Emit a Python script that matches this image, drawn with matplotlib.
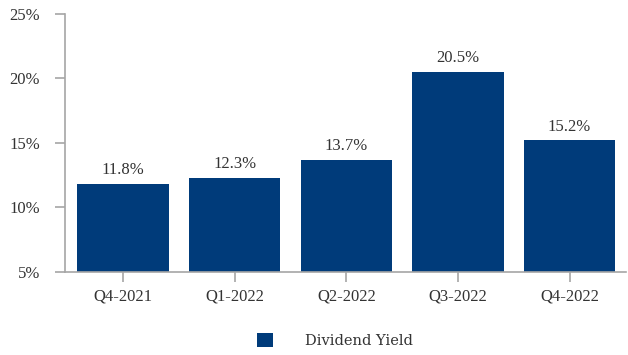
import numpy as np
import matplotlib.pyplot as plt

# Quarterly dividend yield (%)
quarters = ['Q4-2021', 'Q1-2022', 'Q2-2022', 'Q3-2022', 'Q4-2022']
dividend_yield = [11.8, 12.3, 13.7, 20.5, 15.2]
yticks = [5, 10, 15, 20, 25]

bar_color = '#003B7A'
text_color = '#333333'
axis_color = '#a6a6a6'

plt.rcParams['font.family'] = ['Liberation Serif', 'DejaVu Serif']

fig = plt.figure(figsize=(6.28, 3.55), dpi=100)
ax = fig.add_axes([0.1035, 0.234, 0.894, 0.7266])

x = np.arange(len(quarters))
bars = ax.bar(x, dividend_yield, width=0.82, bottom=0, color=bar_color,
              label='Dividend Yield')

# value labels above each bar
for xi, v in zip(x, dividend_yield):
    ax.text(xi, v + 0.45, f'{v:.1f}%', ha='center', va='bottom',
            fontsize=12, color=text_color)

ax.set_ylim(5, 25)
ax.set_xlim(-0.52, 4.51)
ax.set_yticks(yticks)
ax.set_yticklabels([f'{t}%' for t in yticks])
ax.set_xticks(x)
ax.set_xticklabels(quarters)

ax.tick_params(axis='both', colors=axis_color, labelcolor=text_color,
               labelsize=12, length=7, width=1.2)
ax.tick_params(axis='y', pad=11)
ax.tick_params(axis='x', pad=5)

for side in ['top', 'right']:
    ax.spines[side].set_visible(False)
for side in ['left', 'bottom']:
    ax.spines[side].set_color(axis_color)
    ax.spines[side].set_linewidth(1.2)
ax.spines['left'].set_bounds(5, 25)

leg = fig.legend(handles=[bars], labels=['Dividend Yield'], loc='center',
                 bbox_to_anchor=(0.533, 0.04), frameon=False,
                 prop={'family': 'DejaVu Serif', 'size': 10.5},
                 handlelength=1.1, handleheight=1.1, handletextpad=2.2)
for t in leg.get_texts():
    t.set_color(text_color)

plt.savefig('out.png', dpi=100)
